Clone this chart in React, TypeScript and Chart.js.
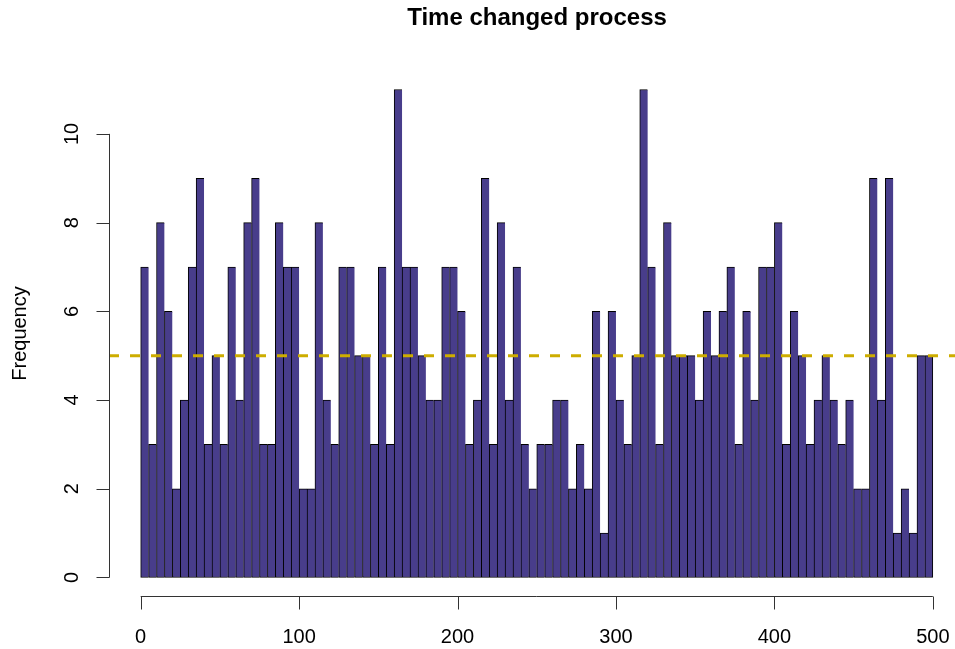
import { useEffect, useRef } from "react";
import { Chart, registerables } from "chart.js";

Chart.register(...registerables);

const chartTitle = "Time changed process";
const yAxisTitle = "Frequency";
const binStart = 0;
const binWidth = 5;
const counts = [
  7, 3, 8, 6, 2, 4, 7, 9, 3, 5,
  3, 7, 4, 8, 9, 3, 3, 8, 7, 7,
  2, 2, 8, 4, 3, 7, 7, 5, 5, 3,
  7, 3, 11, 7, 7, 5, 4, 4, 7, 7,
  6, 3, 4, 9, 3, 8, 4, 7, 3, 2,
  3, 3, 4, 4, 2, 3, 2, 6, 1, 6,
  4, 3, 5, 11, 7, 3, 8, 5, 5, 5,
  4, 6, 5, 6, 7, 3, 6, 4, 7, 7,
  8, 3, 6, 5, 3, 4, 5, 4, 3, 4,
  2, 2, 9, 4, 9, 1, 2, 1, 5, 5,
];
const xTicks = [0, 100, 200, 300, 400, 500];
const yTicks = [0, 2, 4, 6, 8, 10];
const meanLevel = 5;

const FONT = '"Liberation Sans", Arial, Helvetica, sans-serif';

export default function App() {
  const ref = useRef<HTMLCanvasElement>(null);

  useEffect(() => {
    if (!ref.current) return;
    const points = counts.map((c, i) => ({ x: binStart + binWidth * (i + 0.5), y: c }));
    const last = counts.length - 1;

    const rStyle = {
      id: "rStyle",
      afterDatasetsDraw(chart: any) {
        const ctx = chart.ctx as CanvasRenderingContext2D;
        const xs = chart.scales.x;
        const ys = chart.scales.y;
        const ca = chart.chartArea;
        ctx.save();

        // mean reference line
        const yMean = ys.getPixelForValue(meanLevel);
        ctx.strokeStyle = "#CDAD00";
        ctx.lineWidth = 3;
        ctx.setLineDash([10, 11]);
        ctx.beginPath();
        ctx.moveTo(ca.left, yMean);
        ctx.lineTo(chart.width, yMean);
        ctx.stroke();
        ctx.setLineDash([]);

        // y axis
        ctx.strokeStyle = "#333";
        ctx.lineWidth = 1;
        const axX = Math.round(ca.left) + 0.5;
        ctx.beginPath();
        ctx.moveTo(axX, ys.getPixelForValue(yTicks[0]));
        ctx.lineTo(axX, ys.getPixelForValue(yTicks[yTicks.length - 1]));
        for (const t of yTicks) {
          const p = Math.round(ys.getPixelForValue(t)) + 0.5;
          ctx.moveTo(axX, p);
          ctx.lineTo(axX - 13, p);
        }
        ctx.stroke();

        ctx.fillStyle = "#000";
        ctx.font = `20px ${FONT}`;
        ctx.textAlign = "center";
        ctx.textBaseline = "middle";
        for (const t of yTicks) {
          const p = ys.getPixelForValue(t);
          ctx.save();
          ctx.translate(72, p);
          ctx.rotate(-Math.PI / 2);
          ctx.fillText(String(t), 0, 0);
          ctx.restore();
        }

        // x axis
        const axY = Math.round(ca.bottom) - 0.5;
        ctx.beginPath();
        ctx.moveTo(xs.getPixelForValue(xTicks[0]), axY);
        ctx.lineTo(xs.getPixelForValue(xTicks[xTicks.length - 1]), axY);
        for (const t of xTicks) {
          const p = Math.round(xs.getPixelForValue(t)) + 0.5;
          ctx.moveTo(p, axY);
          ctx.lineTo(p, axY + 13);
        }
        ctx.stroke();
        for (const t of xTicks) {
          ctx.fillText(String(t), xs.getPixelForValue(t), 637);
        }

        // y axis title
        ctx.save();
        ctx.translate(20, (ca.top + ca.bottom) / 2);
        ctx.rotate(-Math.PI / 2);
        ctx.fillText(yAxisTitle, 0, 0);
        ctx.restore();

        // main title
        ctx.font = `bold 24px ${FONT}`;
        ctx.fillText(chartTitle, 537, 18);

        ctx.restore();
      },
    };

    const chart = new Chart(ref.current, {
      type: "bar",
      data: {
        datasets: [
          {
            data: points as any,
            backgroundColor: "#483D8B",
            borderColor: "#000",
            borderWidth: (c: any) => ({
              top: 1,
              left: 1,
              bottom: 1,
              right: c.dataIndex === last ? 1 : 0,
            }),
            borderSkipped: false,
            barPercentage: 1,
            categoryPercentage: 1,
          } as any,
        ],
      },
      options: {
        animation: false,
        responsive: false,
        events: [],
        layout: { padding: { left: 109, right: 0, top: 70, bottom: 52 } },
        plugins: {
          legend: { display: false },
          tooltip: { enabled: false },
          title: { display: false },
        },
        scales: {
          x: { type: "linear", min: -20, max: 514, offset: false, display: false },
          y: { type: "linear", min: -0.44, max: 11.44, display: false },
        },
      },
      plugins: [rStyle],
    });
    return () => chart.destroy();
  }, []);

  return (
    <div style={{ position: "absolute", left: 0, top: 0 }}>
      <canvas ref={ref} width={955} height={649} style={{ display: "block" }} />
    </div>
  );
}
